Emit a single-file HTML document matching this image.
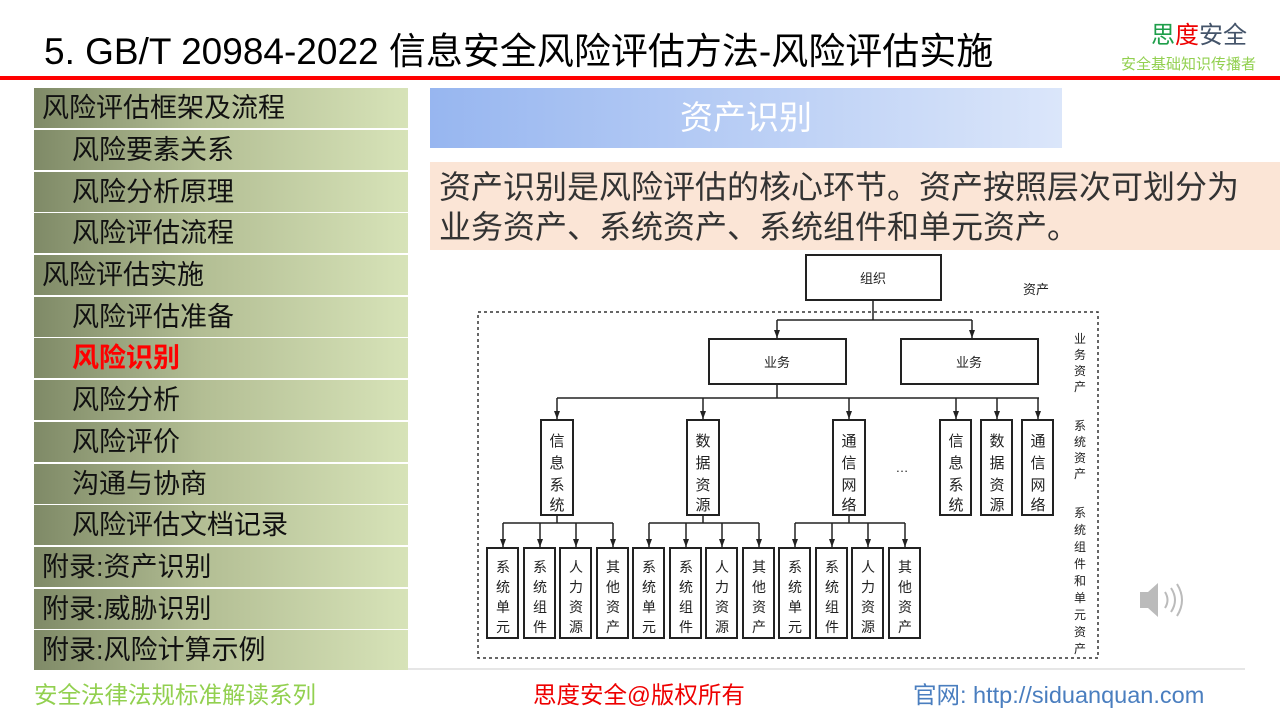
<!DOCTYPE html>
<html><head><meta charset="utf-8"><style>
*{margin:0;padding:0;box-sizing:border-box}
body{width:1280px;height:720px;position:relative;background:#fff;font-family:"Liberation Sans","Noto Sans CJK SC",sans-serif;overflow:hidden}
.a{position:absolute}
.row{position:absolute;left:34px;width:374px;height:40px;background:linear-gradient(90deg,#7f8a67,#b3be94 45%,#d7e3b8);font-size:27px;color:#111;line-height:40px;white-space:nowrap}
svg text{font-family:"Liberation Sans","Noto Sans CJK SC",sans-serif}
</style></head><body>
<div class="a" style="left:44px;top:21px;font-size:37px;color:#000;white-space:nowrap">5. GB/T 20984-2022 信息安全风险评估方法-风险评估实施</div>
<div class="a" style="left:1151px;top:15px;font-size:24px;white-space:nowrap"><span style="color:#1e9e4a">思</span><span style="color:#e00">度</span><span style="color:#44546a">安全</span></div>
<div class="a" style="left:1121px;top:53px;font-size:15px;color:#92d050;white-space:nowrap">安全基础知识传播者</div>
<div class="a" style="left:0;top:76px;width:1280px;height:4px;background:#f00"></div>

<div class="row" style="top:88px;padding-left:8px">风险评估框架及流程</div>
<div class="row" style="top:130px;padding-left:38px">风险要素关系</div>
<div class="row" style="top:172px;padding-left:38px">风险分析原理</div>
<div class="row" style="top:213px;padding-left:38px">风险评估流程</div>
<div class="row" style="top:255px;padding-left:8px">风险评估实施</div>
<div class="row" style="top:297px;padding-left:38px">风险评估准备</div>
<div class="row" style="top:338px;padding-left:38px;color:#f00;font-weight:bold">风险识别</div>
<div class="row" style="top:380px;padding-left:38px">风险分析</div>
<div class="row" style="top:422px;padding-left:38px">风险评价</div>
<div class="row" style="top:464px;padding-left:38px">沟通与协商</div>
<div class="row" style="top:505px;padding-left:38px">风险评估文档记录</div>
<div class="row" style="top:547px;padding-left:8px">附录:资产识别</div>
<div class="row" style="top:589px;padding-left:8px">附录:威胁识别</div>
<div class="row" style="top:630px;padding-left:8px">附录:风险计算示例</div>

<div class="a" style="left:430px;top:88px;width:632px;height:60px;background:linear-gradient(90deg,#97b6f0,#dbe6fa);color:#fff;font-size:33px;text-align:center;line-height:60px">资产识别</div>
<div class="a" style="left:430px;top:162px;width:850px;height:88px;background:#fbe5d6;color:#333;font-size:32px;line-height:40px;padding:5px 0 0 9px;white-space:nowrap">资产识别是风险评估的核心环节。资产按照层次可划分为<br>业务资产、系统资产、系统组件和单元资产。</div>

<svg class="a" style="left:0;top:0" width="1280" height="720">
<defs><marker id="ar" markerWidth="8" markerHeight="6" refX="8" refY="3" orient="auto" markerUnits="userSpaceOnUse"><path d="M0,0 L8,3 L0,6 z" fill="#222"/></marker></defs>
<g stroke="#222" stroke-width="2" fill="#fff">
<rect x="806" y="255" width="135" height="45"/>
<rect x="709" y="339" width="137" height="45"/>
<rect x="901" y="339" width="137" height="45"/>
<rect x="541" y="420" width="32" height="95"/>
<rect x="687" y="420" width="32" height="95"/>
<rect x="833" y="420" width="32" height="95"/>
<rect x="940" y="420" width="31" height="95"/>
<rect x="981" y="420" width="31" height="95"/>
<rect x="1022" y="420" width="31" height="95"/>
</g>
<rect x="478" y="312" width="620" height="346" fill="none" stroke="#333" stroke-width="1.5" stroke-dasharray="3,3"/>
<g stroke="#222" stroke-width="1.5" fill="none">
<path d="M873 300V320M777 320H972"/>
<path d="M777 320V338" marker-end="url(#ar)"/><path d="M972 320V338" marker-end="url(#ar)"/>
<path d="M777 384V398M557 398H1039"/>
<path d="M557 398V419" marker-end="url(#ar)"/><path d="M703 398V419" marker-end="url(#ar)"/><path d="M849 398V419" marker-end="url(#ar)"/>
<path d="M956 398V419" marker-end="url(#ar)"/><path d="M997 398V419" marker-end="url(#ar)"/><path d="M1038 398V419" marker-end="url(#ar)"/>
<path d="M557 515V523M503 523H613M703 515V523M649 523H759M849 515V523M795 523H905"/>
<path d="M503 523V547" marker-end="url(#ar)"/><path d="M540 523V547" marker-end="url(#ar)"/><path d="M576 523V547" marker-end="url(#ar)"/><path d="M613 523V547" marker-end="url(#ar)"/>
<path d="M649 523V547" marker-end="url(#ar)"/><path d="M686 523V547" marker-end="url(#ar)"/><path d="M722 523V547" marker-end="url(#ar)"/><path d="M759 523V547" marker-end="url(#ar)"/>
<path d="M795 523V547" marker-end="url(#ar)"/><path d="M832 523V547" marker-end="url(#ar)"/><path d="M868 523V547" marker-end="url(#ar)"/><path d="M905 523V547" marker-end="url(#ar)"/>
</g>
<g stroke="#222" stroke-width="2" fill="#fff">
<rect x="487" y="548" width="31" height="90"/><rect x="524" y="548" width="31" height="90"/><rect x="560" y="548" width="31" height="90"/><rect x="597" y="548" width="31" height="90"/>
<rect x="633" y="548" width="31" height="90"/><rect x="670" y="548" width="31" height="90"/><rect x="706" y="548" width="31" height="90"/><rect x="743" y="548" width="31" height="90"/>
<rect x="779" y="548" width="31" height="90"/><rect x="816" y="548" width="31" height="90"/><rect x="852" y="548" width="31" height="90"/><rect x="889" y="548" width="31" height="90"/>
</g>
<g font-size="13" fill="#222" text-anchor="middle">
<text x="873" y="283">组织</text><text x="777" y="367">业务</text><text x="969" y="367">业务</text>
<text x="1036" y="294">资产</text><text x="902" y="472">…</text>
</g>
<g font-size="15" fill="#222" text-anchor="middle">
<text x="557" y="446">信</text><text x="557" y="468">息</text><text x="557" y="490">系</text><text x="557" y="510">统</text>
<text x="703" y="446">数</text><text x="703" y="468">据</text><text x="703" y="490">资</text><text x="703" y="510">源</text>
<text x="849" y="446">通</text><text x="849" y="468">信</text><text x="849" y="490">网</text><text x="849" y="510">络</text>
<text x="956" y="446">信</text><text x="956" y="468">息</text><text x="956" y="490">系</text><text x="956" y="510">统</text>
<text x="997" y="446">数</text><text x="997" y="468">据</text><text x="997" y="490">资</text><text x="997" y="510">源</text>
<text x="1038" y="446">通</text><text x="1038" y="468">信</text><text x="1038" y="490">网</text><text x="1038" y="510">络</text>
</g>
<g font-size="12" fill="#222" text-anchor="middle">
<text x="1080" y="343">业</text><text x="1080" y="359">务</text><text x="1080" y="375">资</text><text x="1080" y="391">产</text>
<text x="1080" y="430">系</text><text x="1080" y="446">统</text><text x="1080" y="462">资</text><text x="1080" y="478">产</text>
<text x="1080" y="517">系</text><text x="1080" y="534">统</text><text x="1080" y="551">组</text><text x="1080" y="568">件</text><text x="1080" y="585">和</text><text x="1080" y="602">单</text><text x="1080" y="619">元</text><text x="1080" y="636">资</text><text x="1080" y="653">产</text>
</g>
<g font-size="14" fill="#222" text-anchor="middle">
<text x="503" y="572">系</text><text x="503" y="592">统</text><text x="503" y="612">单</text><text x="503" y="632">元</text>
<text x="540" y="572">系</text><text x="540" y="592">统</text><text x="540" y="612">组</text><text x="540" y="632">件</text>
<text x="576" y="572">人</text><text x="576" y="592">力</text><text x="576" y="612">资</text><text x="576" y="632">源</text>
<text x="613" y="572">其</text><text x="613" y="592">他</text><text x="613" y="612">资</text><text x="613" y="632">产</text>
<text x="649" y="572">系</text><text x="649" y="592">统</text><text x="649" y="612">单</text><text x="649" y="632">元</text>
<text x="686" y="572">系</text><text x="686" y="592">统</text><text x="686" y="612">组</text><text x="686" y="632">件</text>
<text x="722" y="572">人</text><text x="722" y="592">力</text><text x="722" y="612">资</text><text x="722" y="632">源</text>
<text x="759" y="572">其</text><text x="759" y="592">他</text><text x="759" y="612">资</text><text x="759" y="632">产</text>
<text x="795" y="572">系</text><text x="795" y="592">统</text><text x="795" y="612">单</text><text x="795" y="632">元</text>
<text x="832" y="572">系</text><text x="832" y="592">统</text><text x="832" y="612">组</text><text x="832" y="632">件</text>
<text x="868" y="572">人</text><text x="868" y="592">力</text><text x="868" y="612">资</text><text x="868" y="632">源</text>
<text x="905" y="572">其</text><text x="905" y="592">他</text><text x="905" y="612">资</text><text x="905" y="632">产</text>
</g>
<line x1="408" y1="669" x2="1245" y2="669" stroke="#ccc" stroke-width="1"/>
<g fill="#bbb"><path d="M1140 592h8l10-9v34l-10-9h-8z"/></g>
<g stroke="#bbb" stroke-width="2" fill="none"><path d="M1165 592q5 8 0 16M1171 588q8 12 0 24M1177 584q10 16 0 32"/></g>
</svg>
<div class="a" style="left:34px;top:676px;font-size:23.5px;color:#92d050;white-space:nowrap">安全法律法规标准解读系列</div>
<div class="a" style="left:533px;top:676px;font-size:23.5px;color:#e00;white-space:nowrap">思度安全@版权所有</div>
<div class="a" style="left:913px;top:676px;font-size:23.5px;color:#4a7ebf;white-space:nowrap">官网: http://siduanquan.com</div>
</body></html>
